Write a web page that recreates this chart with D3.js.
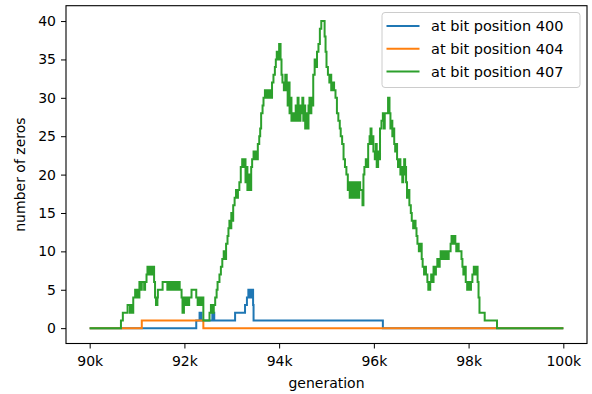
<!DOCTYPE html>
<html>
<head>
<meta charset="utf-8">
<script src="https://cdn.jsdelivr.net/npm/d3@7"></script>
<style>
  html, body { margin: 0; padding: 0; background: #fff; }
  svg { display: block; }
  text { font-family: "DejaVu Sans", sans-serif; fill: #000; }
</style>
</head>
<body>
<svg id="chart" width="592" height="394"></svg>
<script>
// Number of zeros over generations, as step series of [generation, count].
const seriesNames = ["at bit position 400", "at bit position 404", "at bit position 407"];
const seriesColors = ["#1f77b4", "#ff7f0e", "#2ca02c"];

const bit400 = [
  [90000, 0], [92250, 1], [92320, 2], [92360, 1], [92590, 2], [92630, 1],
  [93070, 2], [93280, 3], [93320, 4], [93350, 5], [93370, 4], [93380, 5],
  [93420, 4], [93440, 5], [93450, 3], [93460, 1], [96190, 0], [100000, 0]
];

const bit404 = [
  [90000, 0], [91100, 1], [92400, 0], [100000, 0]
];

const bit407 = [
  [90000, 0], [90660, 1], [90700, 2], [90800, 3], [90850, 2], [90870, 3], [90900, 2],
  [90920, 4], [90960, 5], [90980, 4], [91000, 5], [91030, 4], [91050, 6], [91080, 5],
  [91100, 6], [91150, 5], [91170, 6], [91200, 7], [91220, 8], [91250, 7], [91270, 8],
  [91300, 7], [91320, 8], [91360, 6], [91380, 4], [91400, 3], [91430, 4], [91440, 5],
  [91540, 6], [91640, 5], [91660, 6], [91700, 5], [91720, 6], [91760, 5], [91780, 6],
  [91800, 5], [91830, 6], [91860, 5], [91880, 6], [91900, 5], [91940, 4], [91960, 2],
  [91990, 4], [92020, 3], [92050, 4], [92080, 3], [92100, 4], [92150, 5], [92250, 4],
  [92280, 3], [92300, 4], [92330, 3], [92360, 4], [92400, 1], [92530, 2], [92560, 3],
  [92600, 2], [92620, 3], [92650, 4], [92680, 5], [92700, 6], [92740, 7], [92770, 8],
  [92800, 9], [92830, 10], [92860, 9], [92880, 11], [92910, 12], [92930, 13], [92950, 14],
  [92970, 13], [92990, 15], [93010, 14], [93030, 16], [93060, 17], [93090, 18], [93110, 17],
  [93130, 18], [93160, 19], [93190, 21], [93220, 22], [93250, 21], [93270, 22], [93290, 19],
  [93310, 21], [93330, 18], [93350, 20], [93370, 19], [93390, 18], [93410, 21], [93430, 22],
  [93460, 23], [93480, 22], [93500, 23], [93530, 22], [93550, 24], [93580, 25], [93600, 26],
  [93620, 28], [93650, 29], [93670, 30], [93700, 31], [93720, 30], [93740, 31], [93770, 30],
  [93800, 31], [93820, 30], [93850, 32], [93880, 33], [93910, 34], [93930, 35], [93950, 36],
  [93970, 35], [94000, 37], [94030, 35], [94050, 33], [94070, 32], [94100, 31], [94130, 33],
  [94160, 31], [94180, 29], [94200, 32], [94220, 28], [94240, 30], [94260, 27], [94300, 28],
  [94320, 27], [94350, 29], [94370, 27], [94390, 30], [94410, 28], [94430, 27], [94450, 29],
  [94470, 28], [94490, 30], [94510, 27], [94530, 29], [94550, 26], [94570, 28], [94600, 26],
  [94620, 29], [94640, 30], [94660, 28], [94680, 30], [94700, 29], [94720, 33], [94750, 35],
  [94770, 34], [94800, 36], [94830, 37], [94860, 39], [94890, 40], [94940, 40], [94960, 38],
  [94980, 36], [95000, 34], [95030, 33], [95060, 32], [95080, 33], [95100, 31], [95130, 32],
  [95160, 31], [95190, 30], [95220, 28], [95250, 27], [95280, 26], [95300, 25], [95330, 24],
  [95360, 22], [95390, 21], [95420, 20], [95450, 18], [95470, 19], [95490, 17], [95510, 19],
  [95530, 18], [95550, 17], [95570, 19], [95590, 18], [95610, 17], [95630, 19], [95650, 18],
  [95670, 17], [95690, 19], [95710, 18], [95760, 16], [95780, 20], [95800, 21], [95830, 22],
  [95850, 21], [95880, 24], [95910, 25], [95930, 26], [95950, 24], [95970, 25], [95990, 23],
  [96020, 22], [96040, 24], [96060, 21], [96090, 23], [96110, 22], [96130, 26], [96160, 27],
  [96190, 28], [96210, 26], [96230, 28], [96300, 30], [96330, 28], [96350, 26], [96370, 27],
  [96390, 25], [96410, 26], [96430, 24], [96450, 23], [96470, 24], [96490, 22], [96510, 21],
  [96540, 22], [96560, 20], [96580, 21], [96600, 19], [96620, 20], [96640, 22], [96660, 21],
  [96680, 19], [96700, 17], [96720, 18], [96750, 16], [96780, 15], [96800, 14], [96830, 13],
  [96860, 14], [96880, 13], [96900, 12], [96920, 11], [96950, 10], [96990, 11], [97010, 9],
  [97030, 8], [97060, 7], [97080, 8], [97100, 7], [97130, 6], [97150, 5], [97190, 6],
  [97210, 7], [97240, 6], [97260, 8], [97290, 7], [97310, 8], [97340, 9], [97370, 8],
  [97390, 9], [97410, 10], [97430, 9], [97450, 10], [97470, 9], [97490, 10], [97510, 9],
  [97530, 10], [97560, 9], [97580, 10], [97620, 11], [97640, 12], [97680, 11], [97700, 12],
  [97720, 11], [97740, 10], [97760, 11], [97790, 10], [97850, 9], [97870, 8], [97890, 7],
  [97920, 8], [97940, 6], [97970, 5], [98000, 6], [98020, 5], [98050, 6], [98080, 7],
  [98110, 8], [98130, 7], [98150, 8], [98190, 6], [98210, 4], [98230, 2], [98340, 1],
  [98600, 0], [100000, 0]
];

const allSeries = [bit400, bit404, bit407];
const xTicks = [90000, 92000, 94000, 96000, 98000, 100000];
const yTicks = [0, 5, 10, 15, 20, 25, 30, 35, 40];

const svg = d3.select("#chart");
const plot = { left: 66, right: 587, top: 5.7, bottom: 343.5 };

const x = d3.scaleLinear().domain([89500, 100500]).range([plot.left, plot.right]);
const y = d3.scaleLinear().domain([-2, 42]).range([plot.bottom, plot.top]);

const line = d3.line()
  .x(d => x(d[0]))
  .y(d => y(d[1]))
  .curve(d3.curveStepAfter);

// series lines
const lines = svg.append("g");
allSeries.forEach((data, i) => {
  lines.append("path")
    .datum(data)
    .attr("d", line)
    .attr("fill", "none")
    .attr("stroke", seriesColors[i])
    .attr("stroke-width", 2)
    .attr("stroke-linejoin", "miter");
});

// axes
const fontSize = 14;
const xAxis = svg.append("g")
  .attr("transform", `translate(0,${plot.bottom})`)
  .call(d3.axisBottom(x).tickValues(xTicks).tickSize(5).tickPadding(8)
    .tickFormat(d => `${d / 1000}k`));
const yAxis = svg.append("g")
  .attr("transform", `translate(${plot.left},0)`)
  .call(d3.axisLeft(y).tickValues(yTicks).tickSize(5).tickPadding(5));

[xAxis, yAxis].forEach(g => {
  g.select(".domain").remove();
  g.selectAll(".tick line").attr("stroke", "#000").attr("stroke-width", 1);
  g.selectAll(".tick text")
    .attr("font-family", "DejaVu Sans")
    .attr("font-size", fontSize)
    .attr("fill", "#000");
});

// frame
svg.append("rect")
  .attr("x", plot.left).attr("y", plot.top)
  .attr("width", plot.right - plot.left).attr("height", plot.bottom - plot.top)
  .attr("fill", "none").attr("stroke", "#000").attr("stroke-width", 1.1);

// axis titles
svg.append("text")
  .attr("x", (plot.left + plot.right) / 2).attr("y", 388)
  .attr("text-anchor", "middle").attr("font-size", fontSize)
  .text("generation");
svg.append("text")
  .attr("transform", `translate(25,${(plot.top + plot.bottom) / 2}) rotate(-90)`)
  .attr("text-anchor", "middle").attr("font-size", fontSize)
  .text("number of zeros");

// legend
const legend = svg.append("g").attr("transform", "translate(382,12.5)");
legend.append("rect")
  .attr("x", 0).attr("y", 0).attr("width", 198).attr("height", 75)
  .attr("rx", 3).attr("ry", 3)
  .attr("fill", "#fff").attr("fill-opacity", 0.8)
  .attr("stroke", "#ccc").attr("stroke-width", 1);
seriesNames.forEach((name, i) => {
  const ly = 13.5 + i * 22.8;
  legend.append("line")
    .attr("x1", 4.5).attr("x2", 37.5).attr("y1", ly).attr("y2", ly)
    .attr("stroke", seriesColors[i]).attr("stroke-width", 2);
  legend.append("text")
    .attr("x", 49).attr("y", ly).attr("dy", "0.36em")
    .attr("font-size", 14.5)
    .text(name);
});
</script>
</body>
</html>
